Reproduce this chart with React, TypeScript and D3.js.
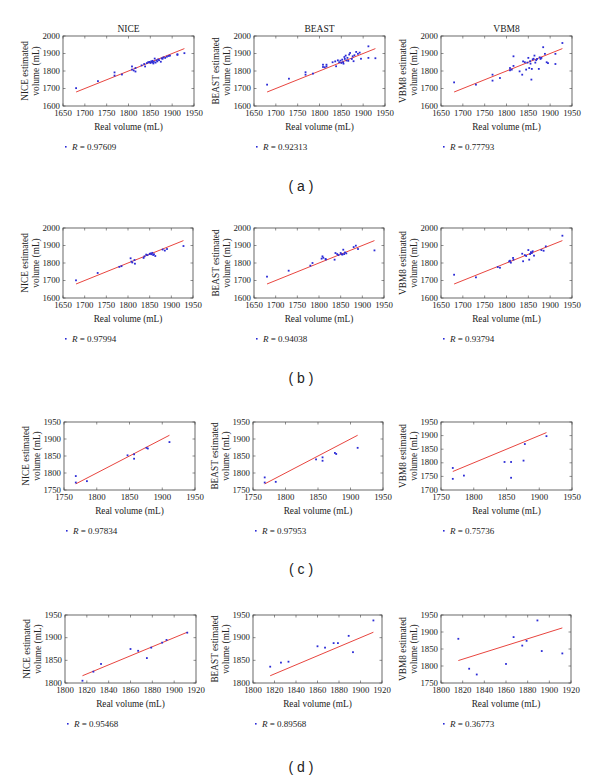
import React from "react";
import * as d3 from "d3";

// ---------- DATA ----------
const METHODS = ["NICE", "BEAST", "VBM8"];
const CAPTIONS = ["( a )", "( b )", "( c )", "( d )"];

// Row (a)
const realA = [1680, 1730, 1768, 1768, 1785, 1808, 1808, 1812, 1816, 1816, 1830, 1836, 1838, 1842, 1845, 1848, 1850, 1852, 1854, 1855, 1857, 1858, 1860, 1862, 1864, 1866, 1868, 1870, 1874, 1876, 1878, 1880, 1884, 1888, 1892, 1895, 1912, 1912, 1928];
const niceA = [1702, 1742, 1792, 1774, 1780, 1826, 1808, 1803, 1817, 1797, 1832, 1840, 1826, 1845, 1850, 1852, 1846, 1855, 1849, 1858, 1843, 1852, 1871, 1848, 1860, 1855, 1866, 1862, 1853, 1872, 1870, 1878, 1875, 1882, 1886, 1888, 1892, 1896, 1902];
const beastA = [1722, 1756, 1793, 1779, 1785, 1823, 1836, 1821, 1836, 1826, 1850, 1855, 1827, 1861, 1850, 1859, 1846, 1865, 1850, 1842, 1880, 1869, 1888, 1860, 1875, 1858, 1894, 1903, 1869, 1884, 1856, 1890, 1909, 1898, 1905, 1870, 1941, 1875, 1873];
const vbm8A = [1735, 1722, 1779, 1745, 1760, 1817, 1804, 1808, 1884, 1829, 1798, 1779, 1855, 1850, 1808, 1848, 1875, 1817, 1856, 1842, 1751, 1812, 1866, 1870, 1888, 1848, 1862, 1869, 1812, 1878, 1869, 1875, 1936, 1898, 1850, 1845, 1898, 1840, 1960];

// Row (b)
const realB = [1680, 1730, 1780, 1785, 1806, 1808, 1810, 1815, 1816, 1836, 1838, 1842, 1845, 1850, 1852, 1854, 1856, 1858, 1860, 1863, 1880, 1885, 1890, 1928];
const niceB = [1701, 1743, 1778, 1782, 1827, 1808, 1803, 1817, 1796, 1829, 1838, 1848, 1845, 1852, 1855, 1850, 1858, 1846, 1850, 1840, 1877, 1871, 1880, 1897];
const beastB = [1722, 1756, 1785, 1800, 1825, 1838, 1830, 1823, 1820, 1819, 1857, 1851, 1845, 1857, 1850, 1848, 1876, 1851, 1860, 1855, 1891, 1899, 1880, 1872];
const vbm8B = [1733, 1718, 1777, 1773, 1809, 1813, 1802, 1829, 1819, 1853, 1810, 1845, 1840, 1874, 1819, 1851, 1862, 1857, 1867, 1842, 1874, 1870, 1895, 1956];

// Row (c)
const realC = [1768, 1768, 1785, 1847, 1857, 1857, 1876, 1878, 1911];
const niceC = [1791, 1772, 1776, 1852, 1855, 1842, 1874, 1872, 1891];
const beastC = [1787, 1772, 1774, 1840, 1846, 1836, 1859, 1856, 1874];
const vbm8C = [1781, 1741, 1753, 1803, 1803, 1745, 1808, 1869, 1898];

// Row (d)
const realD = [1816, 1826, 1833, 1860, 1867, 1875, 1879, 1889, 1893, 1912];
const niceD = [1805, 1825, 1842, 1875, 1871, 1855, 1878, 1889, 1895, 1911];
const beastD = [1836, 1845, 1847, 1881, 1878, 1888, 1888, 1904, 1868, 1938];
const vbm8D = [1880, 1792, 1775, 1806, 1885, 1860, 1874, 1934, 1844, 1837];

const rA = ["0.97609", "0.92313", "0.77793"];
const rB = ["0.97994", "0.94038", "0.93794"];
const rC = ["0.97834", "0.97953", "0.75736"];
const rD = ["0.95468", "0.89568", "0.36773"];

// tick labels
const xTicksAB = [1650, 1700, 1750, 1800, 1850, 1900, 1950];
const yTicksAB = [1600, 1700, 1800, 1900, 2000];
const xTicksC = [1750, 1800, 1850, 1900, 1950];
const yTicksC = [1750, 1800, 1850, 1900, 1950];
const yTicksCV = [1700, 1750, 1800, 1850, 1900, 1950];
const xTicksD = [1800, 1820, 1840, 1860, 1880, 1900, 1920];
const yTicksD = [1800, 1850, 1900, 1950];
const yTicksDV = [1750, 1800, 1850, 1900, 1950];

// ---------- LAYOUT ----------
type Row = {
  real: number[];
  ys: number[][];
  r: string[];
  xTicks: number[];
  yTicks: number[][];
  top: number;
  bottom: number;
  boxes: [number, number][];
  caption: string;
  captionY: number;
  titles: boolean;
};

const rows: Row[] = [
  {
    real: realA, ys: [niceA, beastA, vbm8A], r: rA,
    xTicks: xTicksAB, yTicks: [yTicksAB, yTicksAB, yTicksAB],
    top: 36, bottom: 106, boxes: [[63, 194], [254, 385], [441, 572]],
    caption: CAPTIONS[0], captionY: 186, titles: true,
  },
  {
    real: realB, ys: [niceB, beastB, vbm8B], r: rB,
    xTicks: xTicksAB, yTicks: [yTicksAB, yTicksAB, yTicksAB],
    top: 228, bottom: 298, boxes: [[63, 193], [254, 384], [441, 572]],
    caption: CAPTIONS[1], captionY: 378, titles: false,
  },
  {
    real: realC, ys: [niceC, beastC, vbm8C], r: rC,
    xTicks: xTicksC, yTicks: [yTicksC, yTicksC, yTicksCV],
    top: 422, bottom: 490, boxes: [[64, 195], [253, 383], [441, 572]],
    caption: CAPTIONS[2], captionY: 569, titles: false,
  },
  {
    real: realD, ys: [niceD, beastD, vbm8D], r: rD,
    xTicks: xTicksD, yTicks: [yTicksD, yTicksD, yTicksDV],
    top: 615, bottom: 683, boxes: [[65, 196], [253, 382], [441, 571]],
    caption: CAPTIONS[3], captionY: 767, titles: false,
  },
];

const SERIF = "'Liberation Serif', 'DejaVu Serif', serif";
const SANS = "'Liberation Sans', Arial, sans-serif";
const BLUE = "#2b2bd6";
const RED = "#e8453f";
const FRAME = "#444";

function Panel({ row, i }: { row: Row; i: number }) {
  const [l, r] = row.boxes[i];
  const yT = row.yTicks[i];
  const x = d3.scaleLinear().domain(d3.extent(row.xTicks) as [number, number]).range([l, r]);
  const y = d3.scaleLinear().domain(d3.extent(yT) as [number, number]).range([row.bottom, row.top]);
  const ys = row.ys[i];
  const pts = row.real.map((rv, k) => [rv, ys[k]] as [number, number]);
  const ext = d3.extent(row.real) as [number, number];
  const line = d3.line<number>().x((v) => x(v)).y((v) => y(v));
  const tl = 2.5;
  const midY = (row.top + row.bottom) / 2;
  const name = METHODS[i];
  return (
    <g>
      {row.titles && (
        <text x={(l + r) / 2} y={row.top - 4} textAnchor="middle" fontFamily={SERIF} fontSize={9.5} fill="#222">
          {name}
        </text>
      )}
      <rect x={l} y={row.top} width={r - l} height={row.bottom - row.top} fill="none" stroke={FRAME} strokeWidth={0.8} />
      {row.xTicks.map((t) => (
        <g key={"x" + t}>
          <line x1={x(t)} x2={x(t)} y1={row.bottom} y2={row.bottom - tl} stroke={FRAME} strokeWidth={0.6} />
          <line x1={x(t)} x2={x(t)} y1={row.top} y2={row.top + tl} stroke={FRAME} strokeWidth={0.6} />
          <text x={x(t)} y={row.bottom + 10} textAnchor="middle" fontFamily={SERIF} fontSize={8.8} fill="#222">
            {t}
          </text>
        </g>
      ))}
      {yT.map((t) => (
        <g key={"y" + t}>
          <line x1={l} x2={l + tl} y1={y(t)} y2={y(t)} stroke={FRAME} strokeWidth={0.6} />
          <line x1={r} x2={r - tl} y1={y(t)} y2={y(t)} stroke={FRAME} strokeWidth={0.6} />
          <text x={l - 3} y={y(t) + 2.5} textAnchor="end" fontFamily={SERIF} fontSize={8.8} fill="#222">
            {t}
          </text>
        </g>
      ))}
      <path d={line(ext) || ""} stroke={RED} strokeWidth={1} fill="none" />
      {pts.map(([px, py], k) => (
        <rect key={k} x={x(px) - 0.9} y={y(py) - 0.9} width={1.8} height={1.8} fill={BLUE} />
      ))}
      <text x={(l + r) / 2} y={row.bottom + 24} textAnchor="middle" fontFamily={SERIF} fontSize={9.3} fill="#222">
        Real volume (mL)
      </text>
      <g transform={`translate(${l - 35},${midY}) rotate(-90)`}>
        <text x={0} y={0} textAnchor="middle" fontFamily={SERIF} fontSize={9.3} fill="#222">
          {name} estimated
        </text>
        <text x={0} y={10.5} textAnchor="middle" fontFamily={SERIF} fontSize={9.3} fill="#222">
          volume (mL)
        </text>
      </g>
      <rect x={l + 2} y={row.bottom + 40} width={1.6} height={1.6} fill={BLUE} />
      <text x={l + 9} y={row.bottom + 44} fontFamily={SERIF} fontSize={9} fill="#222">
        <tspan fontStyle="italic">R</tspan> = {row.r[i]}
      </text>
    </g>
  );
}

export default function App() {
  return (
    <svg
      width={600}
      height={781}
      viewBox="0 0 600 781"
      style={{ position: "absolute", left: 0, top: 0, background: "#fff" }}
    >
      <rect width={600} height={781} fill="#fff" />
      {rows.map((row, ri) => (
        <g key={ri}>
          {METHODS.map((_, i) => (
            <Panel key={i} row={row} i={i} />
          ))}
          <text x={301} y={row.captionY + 5} textAnchor="middle" fontFamily={SANS} fontSize={14} fill="#222">
            {row.caption}
          </text>
        </g>
      ))}
    </svg>
  );
}
